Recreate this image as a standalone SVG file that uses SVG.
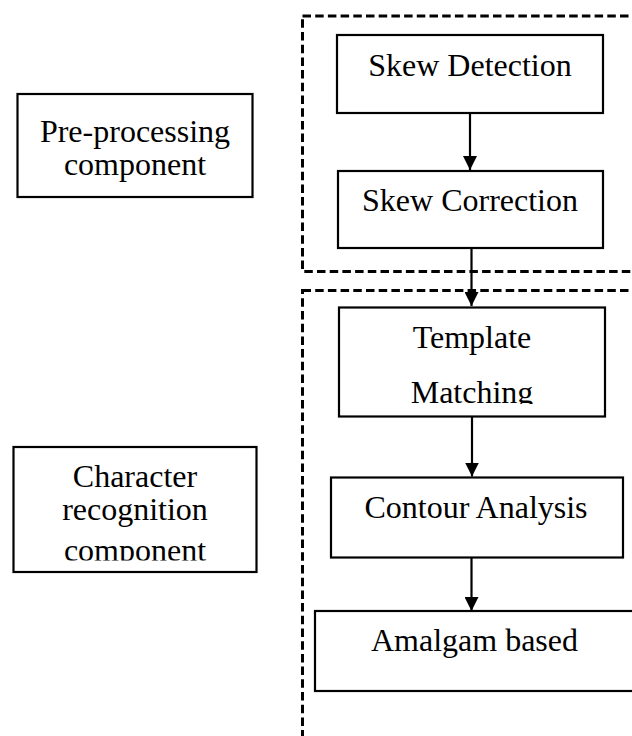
<svg xmlns="http://www.w3.org/2000/svg" width="632" height="736" viewBox="0 0 632 736">
<style>
  .box { fill: #ffffff; stroke: #000000; stroke-width: 2.2; }
  .dash { fill: none; stroke: #000000; stroke-width: 3; stroke-dasharray: 8.5 4.2; }
  .lbl { font-family: "Liberation Serif", "Times New Roman", serif; font-size: 32px; fill: #000000; text-anchor: middle; }
  .conn { stroke: #000000; stroke-width: 2.2; fill: none; marker-end: url(#arrow); }
</style>
<defs>
  <marker id="arrow" markerUnits="userSpaceOnUse" markerWidth="14" markerHeight="14" viewBox="0 0 14 14" refX="14" refY="7" orient="auto">
    <path d="M0,0 L14,7 L0,14 z" fill="#000000"/>
  </marker>
  <clipPath id="clipTM"><rect x="330" y="300" width="290" height="104"/></clipPath>
  <clipPath id="clipCR"><rect x="0" y="440" width="270" height="120.5"/></clipPath>
</defs>
<rect x="0" y="0" width="632" height="736" fill="#ffffff"/>

<g id="group-preprocessing">
  <rect class="dash" x="302.5" y="16" width="360" height="255.5"/>
</g>
<g id="group-recognition">
  <rect class="dash" x="302.5" y="290.5" width="360" height="480"/>
</g>

<g id="label-preprocessing">
  <rect class="box" x="17.5" y="94" width="235" height="103"/>
  <text class="lbl" x="135" y="141.5">Pre-processing</text>
  <text class="lbl" x="135" y="174.5">component</text>
</g>

<g id="label-recognition">
  <rect class="box" x="13.5" y="447" width="243" height="125"/>
  <g clip-path="url(#clipCR)">
    <text class="lbl" x="135" y="487">Character</text>
    <text class="lbl" x="135" y="520">recognition</text>
    <text class="lbl" x="135" y="561">component</text>
  </g>
</g>

<g id="skew-detection">
  <rect class="box" x="337" y="35" width="266" height="78"/>
  <text class="lbl" x="470" y="76">Skew Detection</text>
</g>

<g id="skew-correction">
  <rect class="box" x="338" y="171" width="265" height="77"/>
  <text class="lbl" x="470" y="210.5">Skew Correction</text>
</g>

<g id="template-matching">
  <rect class="box" x="339" y="307.5" width="266" height="109"/>
  <g clip-path="url(#clipTM)">
    <text class="lbl" x="472" y="347.5">Template</text>
    <text class="lbl" x="472" y="403">Matching</text>
  </g>
</g>

<g id="contour-analysis">
  <rect class="box" x="331" y="477.5" width="292" height="80"/>
  <text class="lbl" x="476" y="518">Contour Analysis</text>
</g>

<g id="amalgam-based">
  <rect class="box" x="315" y="611" width="340" height="80"/>
  <text class="lbl" x="474.5" y="650.5">Amalgam based</text>
</g>

<g id="connectors">
  <line class="conn" x1="470" y1="113" x2="470" y2="170"/>
  <line class="conn" x1="471.5" y1="248" x2="471.5" y2="306"/>
  <line class="conn" x1="472" y1="417" x2="472" y2="476.5"/>
  <line class="conn" x1="471.5" y1="558" x2="471.5" y2="611"/>
</g>
</svg>
